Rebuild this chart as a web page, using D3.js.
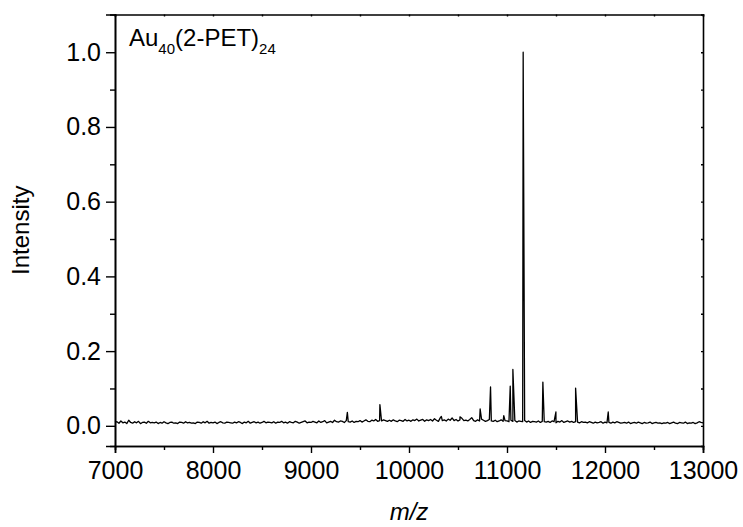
<!DOCTYPE html>
<html>
<head>
<meta charset="utf-8">
<script src="https://cdn.jsdelivr.net/npm/d3@7"></script>
<style>
  body { margin: 0; background: #fff; }
  svg { display: block; font-family: "Liberation Sans", Arial, sans-serif; }
</style>
</head>
<body>
<div id="chart"></div>
<script>
// spectrum baseline, m/z 7000..13000 every 20 Da, intensity in 1/1000
var mzStart = 7000, mzStep = 20
var baseline = [
  9,11,7,13,8,10,6,15,9,7,11,8,12,6,9,10,7,12,8,9,
  8,10,6,9,7,11,8,6,9,10,7,8,6,10,9,7,11,8,9,7,
  8,6,10,9,7,11,8,12,7,9,8,10,6,9,11,8,7,10,9,8,
  7,10,8,11,9,6,10,8,12,7,9,11,8,10,7,9,12,8,10,9,
  8,11,7,10,9,12,8,10,7,11,9,8,12,10,7,9,11,13,8,10,
  9,12,10,8,13,9,11,14,8,10,12,9,15,11,10,13,12,9,14,11,
  10,13,9,12,11,14,10,13,16,12,11,15,13,17,12,14,13,16,14,12,
  15,12,16,13,11,15,14,12,17,13,15,12,16,14,18,13,15,17,12,16,
  14,17,13,19,15,12,22,14,16,13,18,15,21,14,17,13,16,20,14,15,
  13,17,22,14,12,16,13,18,15,12,14,17,13,12,15,11,13,16,12,14,
  13,11,15,12,14,10,13,12,11,14,10,13,9,12,11,10,13,9,12,11,
  10,12,9,13,11,8,12,10,14,9,11,13,10,12,9,11,10,8,11,9,
  10,8,11,9,7,10,8,9,11,7,10,8,9,7,10,8,11,9,7,8,
  9,7,10,6,8,9,7,10,8,6,9,7,8,10,6,8,9,7,8,6,
  8,7,9,6,8,10,7,6,9,8,7,10,6,8,7,9,6,8,11,9,
  8
]

// peaks [m/z, intensity]
var peaks = [
  [9371, 0.036], [9703, 0.057], [10330, 0.025], [10520, 0.024],
  [10726, 0.045], [10832, 0.104], [10967, 0.027], [11033, 0.106],
  [11060, 0.151], [11165, 1.0], [11366, 0.117], [11499, 0.037],
  [11700, 0.101], [12033, 0.037]
]

var xTicks = [7000, 8000, 9000, 10000, 11000, 12000, 13000]
var yTicks = [0.0, 0.2, 0.4, 0.6, 0.8, 1.0]

var width = 743, height = 527
var margin = {top: 14.5, right: 40, bottom: 81, left: 115}
var plotW = width - margin.left - margin.right
var plotH = height - margin.top - margin.bottom

var svg = d3.select("#chart").append("svg")
  .attr("width", width)
  .attr("height", height)

var g = svg.append("g")
  .attr("transform", `translate(${margin.left},${margin.top})`)

var x = d3.scaleLinear().domain([7000, 13000]).range([0, plotW])
var y = d3.scaleLinear().domain([-0.054, 1.101]).range([plotH, 0])

// merge baseline and peaks
var points = baseline.map((v, i) => [mzStart + i * mzStep, v / 1000])
peaks.forEach(p => points.push(p))
points.sort((a, b) => a[0] - b[0])

g.append("path")
  .datum(points)
  .attr("fill", "none")
  .attr("stroke", "#000")
  .attr("stroke-width", 1.3)
  .attr("stroke-linejoin", "round")
  .attr("d", d3.line().x(d => x(d[0])).y(d => y(d[1])))

// bottom axis (major + minor)
var xMinor = d3.range(7500, 13000, 1000)
g.append("g")
  .attr("transform", `translate(0,${plotH})`)
  .call(d3.axisBottom(x).tickValues(xMinor).tickSize(4).tickFormat(""))
g.append("g")
  .attr("class", "xmaj")
  .attr("transform", `translate(0,${plotH})`)
  .call(d3.axisBottom(x).tickValues(xTicks).tickSize(7).tickPadding(8).tickFormat(d3.format("d")))

// left axis
var yMinor = [0.1, 0.3, 0.5, 0.7, 0.9]
g.append("g")
  .call(d3.axisLeft(y).tickValues(yMinor).tickSize(5).tickFormat(""))
g.append("g")
  .attr("class", "ymaj")
  .call(d3.axisLeft(y).tickValues(yTicks).tickSize(9).tickPadding(5).tickFormat(d3.format(".1f")))

// top and right axes, small inward ticks
g.append("g")
  .call(d3.axisTop(x).tickValues(xTicks.concat(xMinor)).tickSize(-2).tickFormat(""))
g.append("g")
  .attr("transform", `translate(${plotW},0)`)
  .call(d3.axisRight(y).tickValues(yTicks.concat(yMinor)).tickSize(-2).tickFormat(""))

g.selectAll(".domain").attr("stroke", "#000").attr("stroke-width", 1.6)
g.selectAll(".tick line").attr("stroke", "#000").attr("stroke-width", 1.4)
g.selectAll(".xmaj text, .ymaj text")
  .attr("font-family", "Liberation Sans, Arial, sans-serif")
  .attr("font-size", "25px")
  .attr("fill", "#000")

// title
var title = g.append("text")
  .attr("x", 14)
  .attr("y", 31)
  .attr("font-size", "24px")
  .attr("fill", "#000")
title.append("tspan").text("Au")
title.append("tspan").attr("font-size", "15px").attr("dy", 8).text("40")
title.append("tspan").attr("dy", -8).text("(2-PET)")
title.append("tspan").attr("font-size", "15px").attr("dy", 8).text("24")

// axis labels
svg.append("text")
  .attr("transform", `translate(29,${margin.top + plotH / 2}) rotate(-90)`)
  .attr("text-anchor", "middle")
  .attr("font-size", "24px")
  .text("Intensity")

svg.append("text")
  .attr("x", margin.left + plotW / 2)
  .attr("y", 520)
  .attr("text-anchor", "middle")
  .attr("font-size", "24px")
  .attr("font-style", "italic")
  .text("m/z")
</script>
</body>
</html>
